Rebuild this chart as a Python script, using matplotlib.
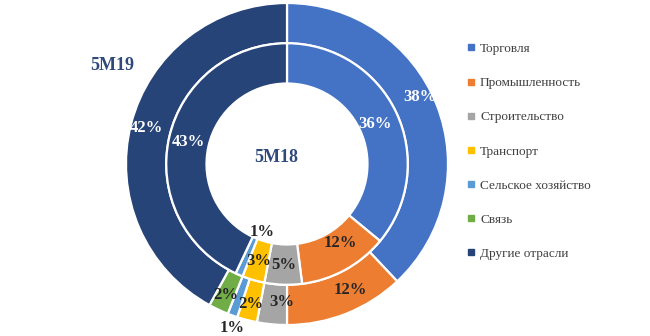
import numpy as np
import matplotlib
matplotlib.use("Agg")
import matplotlib.pyplot as plt
from matplotlib.lines import Line2D

# sector shares, %
sectors = ["Торговля", "Промышленность", "Строительство", "Транспорт",
           "Сельское хозяйство", "Связь", "Другие отрасли"]
share_5m19 = [38, 12, 3, 2, 1, 2, 42]   # outer ring
share_5m18 = [36, 12, 5, 3, 1, 0, 43]   # inner ring
colors = ["#4472C4", "#ED7D31", "#A5A5A5", "#FFC000",
          "#5B9BD5", "#70AD47", "#264478"]
label_colors = ["white", "#262626", "#262626", "#262626",
                "#262626", "#262626", "white"]

plt.rcParams["font.family"] = ["Liberation Serif", "DejaVu Serif"]

fig = plt.figure(figsize=(6.5, 3.36), dpi=100)
ax = fig.add_axes([126 / 650, 11 / 336, 322 / 650, 322 / 336])

wedge_style = dict(edgecolor="white", linewidth=1.6)
outer, _ = ax.pie(share_5m19, radius=1.0, colors=colors, startangle=90,
                  counterclock=False,
                  wedgeprops=dict(width=0.25, **wedge_style))
inner, _ = ax.pie(share_5m18, radius=0.75, colors=colors, startangle=90,
                  counterclock=False,
                  wedgeprops=dict(width=0.25, **wedge_style))
# pie() resets the limits, so fix them afterwards
ax.set_xlim(-1, 1)
ax.set_ylim(-1, 1)
ax.set_aspect("equal")
ax.axis("off")


def put_labels(values, r_default, tweaks):
    # tweaks: index -> (radius, angle shift in degrees)
    start = 0
    for i, v in enumerate(values):
        if v == 0:
            continue
        mid = start + v / 2
        r, shift = tweaks.get(i, (r_default, 0))
        ang = np.deg2rad(90 - 3.6 * mid + shift)
        ax.text(r * np.cos(ang), r * np.sin(ang), f"{v}%",
                ha="center", va="center", fontsize=12, fontweight="bold",
                color=label_colors[i], clip_on=False)
        start += v


put_labels(share_5m19, 0.9, {0: (0.925, 5), 1: (0.875, 5), 2: (0.86, 3.4),
                             4: (1.075, 1.3)})
put_labels(share_5m18, 0.63, {0: (0.6, -1), 1: (0.59, 5), 4: (0.45, 3)})

fig.text(112 / 650, 1 - 65 / 336, "5M19", ha="center", va="center",
         fontsize=13, fontweight="bold", color="#2F4A7A")
fig.text(276 / 650, 1 - 157 / 336, "5M18", ha="center", va="center",
         fontsize=13, fontweight="bold", color="#2F4A7A")

handles = [Line2D([], [], linestyle="none", marker="s", markersize=4,
                  markerfacecolor=c, markeredgecolor=c) for c in colors]
fig.legend(handles, sectors, loc="upper left",
           bbox_to_anchor=(455 / 650, 1 - 31 / 336), frameon=False,
           fontsize=9.5, labelspacing=1.66, handlelength=0.6,
           handletextpad=0.4, labelcolor="#404040")

fig.savefig("out.png", dpi=100)
